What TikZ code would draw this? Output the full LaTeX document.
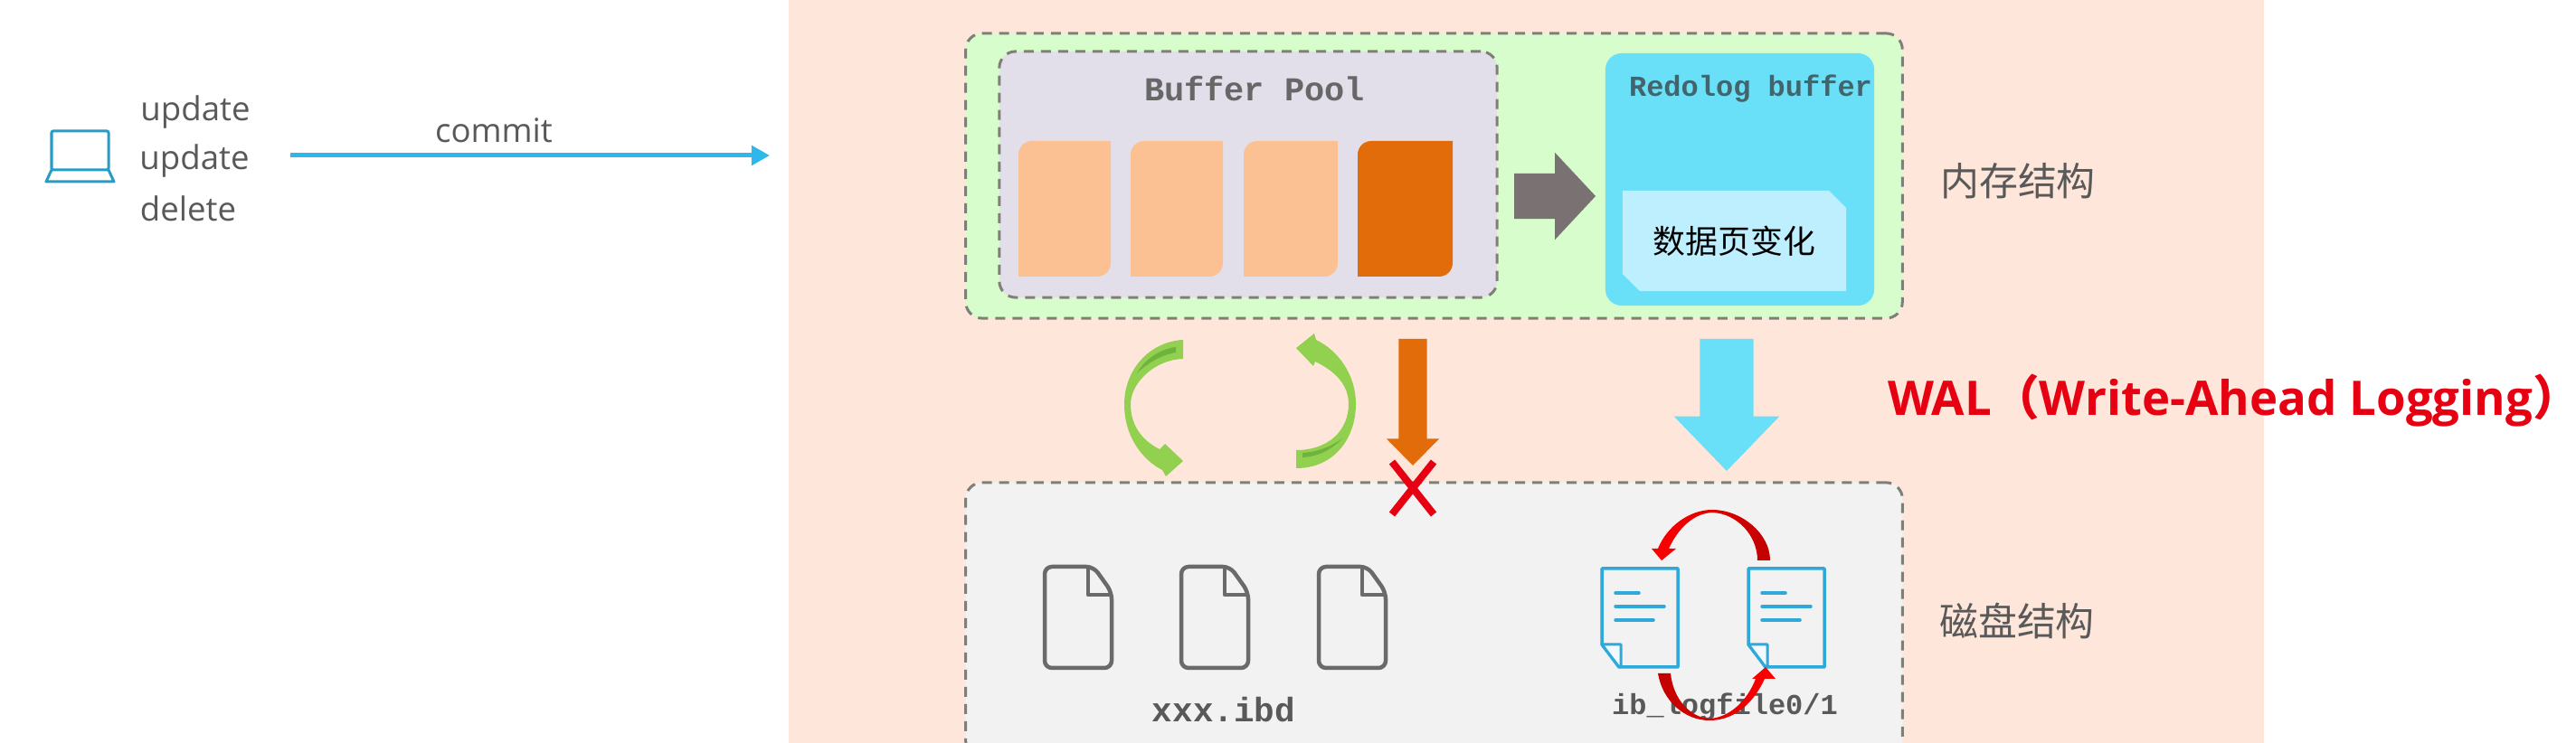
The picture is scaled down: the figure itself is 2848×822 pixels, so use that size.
\documentclass[tikz,border=0pt]{standalone}
\usepackage{fontspec}
\setmainfont{Open Sans}
\setmonofont{Liberation Mono}
\newfontfamily\cjk{Noto Sans CJK SC}
\usetikzlibrary{arrows.meta,shapes.arrows,shapes.misc}

\definecolor{panelbg}{HTML}{FEE6DA}
\definecolor{memorybg}{HTML}{D6FDCB}
\definecolor{poolbg}{HTML}{E3DFEA}
\definecolor{diskbg}{HTML}{F2F2F2}
\definecolor{redobg}{HTML}{69DFF8}
\definecolor{changebg}{HTML}{BEEFFF}
\definecolor{pagelight}{HTML}{FBC192}
\definecolor{pagedark}{HTML}{E36C0A}
\definecolor{flowgray}{HTML}{7A7173}
\definecolor{dashgray}{HTML}{7F7F78}
\definecolor{texgray}{HTML}{595959}
\definecolor{flowblue}{HTML}{2DB7EA}
\definecolor{docblue}{HTML}{2FA8DA}
\definecolor{flushgreen}{HTML}{92D050}
\definecolor{flushshade}{HTML}{6FB33F}
\definecolor{walred}{HTML}{E60012}
\definecolor{darkred}{HTML}{C00000}

\tikzset{
  dashbox/.style={draw=dashgray,line width=0.03cm,dash pattern=on 0.11cm off 0.08cm,
    rounded corners=0.18cm,inner sep=0},
  label/.style={inner sep=0,text=texgray,font=\fontsize{10.4}{12}\selectfont},
  monolabel/.style={inner sep=0,text=texgray,font=\ttfamily\bfseries\fontsize{#1}{12}\selectfont},
  cjklabel/.style={inner sep=0,text=texgray,font=\cjk\fontsize{12.2}{14}\selectfont},
  blockarrow/.style={single arrow,draw=none,anchor=tip},
  ibdfile/.pic={
    \draw[draw=texgray!90,line width=0.045cm,rounded corners=0.08cm,line join=round]
      (54,0) -- (74,28) -- (74,112) -- (0,112) -- (0,0) -- cycle;
    \draw[draw=texgray!90,line width=0.045cm,line join=round] (48,0) -- (48,31) -- (74,31);
  },
  logdoc/.pic={
    \draw[draw=docblue,line width=0.035cm,line join=round]
      (0,0) -- (84,0) -- (84,109) -- (19,109) -- (0,84) -- cycle;
    \draw[draw=docblue,fill=white!80!docblue!30,line width=0.03cm,line join=round]
      (0,84) -- (21,84) -- (21,109) -- (19,109) -- cycle;
    \draw[draw=docblue,line width=0.035cm,line cap=round] (15,27) -- (41,27);
    \draw[draw=docblue,line width=0.035cm,line cap=round] (15,42) -- (69,42);
    \draw[draw=docblue,line width=0.035cm,line cap=round] (15,57) -- (57,57);
  }
}

\begin{document}
\begin{tikzpicture}[x=0.01cm,y=-0.01cm]
\clip (0,0) rectangle (2848,822);
\fill[panelbg] (872,-30) rectangle (2503,860);

% client side
\draw[flowblue!85!black,line width=0.03cm,rounded corners=0.02cm] (57,188) -- (57,145) -- (120,145) -- (120,188) -- cycle;
\draw[flowblue!85!black,line width=0.03cm,line join=round] (57,188) -- (51,201) -- (126,201) -- (120,188);
\node[label] (update1) at (216,124) {update};
\node[label] (update2) at (215,178) {update};
\node[label] (delete) at (208,231) {delete};
\coordinate (commitstart) at (321,172);
\coordinate (commitend) at (851,172);
\node[label] (commit) at (546,144) {commit};
\draw[flowblue,line width=0.05cm,-{Triangle[length=0.2cm,width=0.21cm]}] (commitstart) -- (commitend);

% memory
\node[dashbox,fill=memorybg,minimum width=10.35cm,minimum height=3.15cm] (memory) at (1585.5,194.5) {};
\node[dashbox,fill=poolbg,minimum width=5.50cm,minimum height=2.72cm] (pool) at (1380,193) {};
\node[monolabel=10.5,text=texgray!90!poolbg] (pooltitle) at (1387,98) {Buffer Pool};
\foreach \x/\r/\c in {1126/1228/pagelight,1250/1352/pagelight,1375/1479/pagelight,1501/1606/pagedark}
  \fill[\c] (\x,230) [rounded corners=0.15cm] -- (\x,156) [sharp corners] -- (\r,156) -- (\r,230)
    [rounded corners=0.15cm] -- (\r,306) [sharp corners] -- (\x,306) -- cycle;
\node[blockarrow,fill=flowgray,inner sep=0.245cm,minimum height=0.90cm,minimum width=0.95cm,
  single arrow head extend=0.23cm,single arrow tip angle=94] (poolflow) at (1765,217) {};
\node[fill=redobg,rounded corners=0.18cm,minimum width=2.97cm,minimum height=2.79cm,inner sep=0] (redo) at (1923.5,198.5) {};
\node[monolabel=9.1,text=texgray!60!redobg!70!black] (redotitle) at (1935.5,98) {Redolog buffer};
\node[chamfered rectangle,chamfered rectangle corners={north east,south west},fill=changebg,
  chamfered rectangle xsep=0.09cm,chamfered rectangle ysep=0.10cm,minimum width=2.47cm,minimum height=1.11cm,
  inner sep=0,font=\cjk\fontsize{10.2}{12}\selectfont,text=black] (change) at (1917.5,266.5) {数据页变化};
\node[cjklabel] (memorylabel) at (2231,200) {内存结构};

% disk
\node[dashbox,fill=diskbg,minimum width=10.35cm,minimum height=3.04cm] (disk) at (1585.5,686) {};
\foreach \x in {1155,1306,1458}
  \pic at (\x,627) {ibdfile};
\node[monolabel=10.7] (ibdlabel) at (1353,785) {xxx.ibd};
\node[monolabel=9.1] (loglabel) at (1907,782) {ib\_logfile0/1};
\pic at (1771,629) {logdoc};
\pic at (1933,629) {logdoc};
\node[cjklabel] (disklabel) at (2230,687) {磁盘结构};

% flushing
\fill[flushgreen] (1308,376) .. controls (1270,378) and (1243,410) .. (1243,447)
  .. controls (1243,485) and (1265,510) .. (1285,520) -- (1289,527) -- (1308,510) -- (1288,491) -- (1282,497)
  .. controls (1262,487) and (1250,470) .. (1250,447) .. controls (1250,425) and (1275,398) .. (1308,397) -- cycle;
\fill[flushshade] (1300,384) .. controls (1282,386) and (1265,398) .. (1257,413)
  .. controls (1268,402) and (1285,392) .. (1300,390) -- cycle;
\fill[flushgreen] (1433,518) .. controls (1475,518) and (1499,485) .. (1499,447)
  .. controls (1499,415) and (1480,388) .. (1455,376) -- (1453,369) -- (1433,385) -- (1452,405) -- (1454,400)
  .. controls (1475,410) and (1491,425) .. (1491,447) .. controls (1491,475) and (1470,498) .. (1433,498) -- cycle;
\fill[flushshade] (1440,506) .. controls (1458,505) and (1473,497) .. (1484,485)
  .. controls (1472,494) and (1457,500) .. (1440,501) -- cycle;
\node[blockarrow,fill=pagedark,inner sep=0.15cm,shape border rotate=270,minimum height=1.40cm,minimum width=0.57cm,
  single arrow head extend=0.135cm,single arrow tip angle=89] (pageflow) at (1562,516) {};
\node[cross out,draw=walred,line width=0.08cm,minimum width=0.38cm,minimum height=0.50cm,inner sep=0] (blocked) at (1562,540) {};
\node[blockarrow,fill=redobg,inner sep=0.29cm,shape border rotate=270,minimum height=1.46cm,minimum width=1.15cm,
  single arrow head extend=0.285cm,single arrow tip angle=88] (redoflow) at (1909,522) {};
\shade[left color=red,right color=darkred] (1957,620) .. controls (1957,590) and (1925,564) .. (1893,564)
  .. controls (1868,564) and (1843,582) .. (1833,607) -- (1826,607) -- (1837,620) -- (1853,607) -- (1845,607)
  .. controls (1855,585) and (1872,568) .. (1893,567) .. controls (1920,568) and (1943,592) .. (1943,620) -- cycle;
\shade[left color=darkred,right color=red] (1833,745) .. controls (1838,775) and (1862,797) .. (1890,797)
  .. controls (1920,797) and (1940,775) .. (1951,751) -- (1963,751) -- (1952,738) -- (1937,751) -- (1941,751)
  .. controls (1932,775) and (1912,794) .. (1890,795) .. controls (1870,794) and (1850,775) .. (1847,745) -- cycle;

\node[inner sep=0,text=walred,font=\bfseries\fontsize{15}{18}\selectfont] (wal) at (2470,443) {WAL{\cjk （}Write-Ahead Logging{\cjk ）}};
\end{tikzpicture}
\end{document}
